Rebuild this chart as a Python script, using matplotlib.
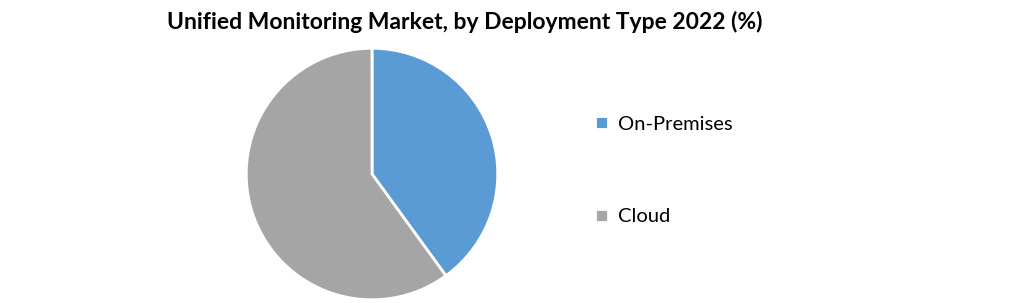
import matplotlib
matplotlib.use("Agg")
import matplotlib.pyplot as plt

# share by deployment type, 2022 (%)
labels = ["On-Premises", "Cloud"]
shares = [40, 60]
colors = ["#5b9bd5", "#a5a5a5"]

plt.rcParams["font.family"] = ["Lato", "DejaVu Sans"]

fig = plt.figure(figsize=(10.2, 3.03), dpi=100)
ax = fig.add_axes([372 / 1020 - 127 / 1020, 1 - (174 + 127) / 303, 254 / 1020, 254 / 303])

wedges, _ = ax.pie(shares, colors=colors, startangle=90, counterclock=False,
                   wedgeprops=dict(edgecolor="white", linewidth=2))
ax.set_xlim(-1.01, 1.01)
ax.set_ylim(-1.01, 1.01)
ax.set_aspect("equal")

fig.text(0.456, 0.928, "Unified Monitoring Market, by Deployment Type 2022 (%)",
         ha="center", va="center", fontsize=16.5, fontweight="bold")

leg = fig.legend(wedges, labels, loc="center left", bbox_to_anchor=(0.566, 0.437),
                 frameon=False, fontsize=14.5, handlelength=0.6, handleheight=0.6,
                 handletextpad=0.5, labelspacing=3.75)

fig.savefig("out.png", dpi=100)
